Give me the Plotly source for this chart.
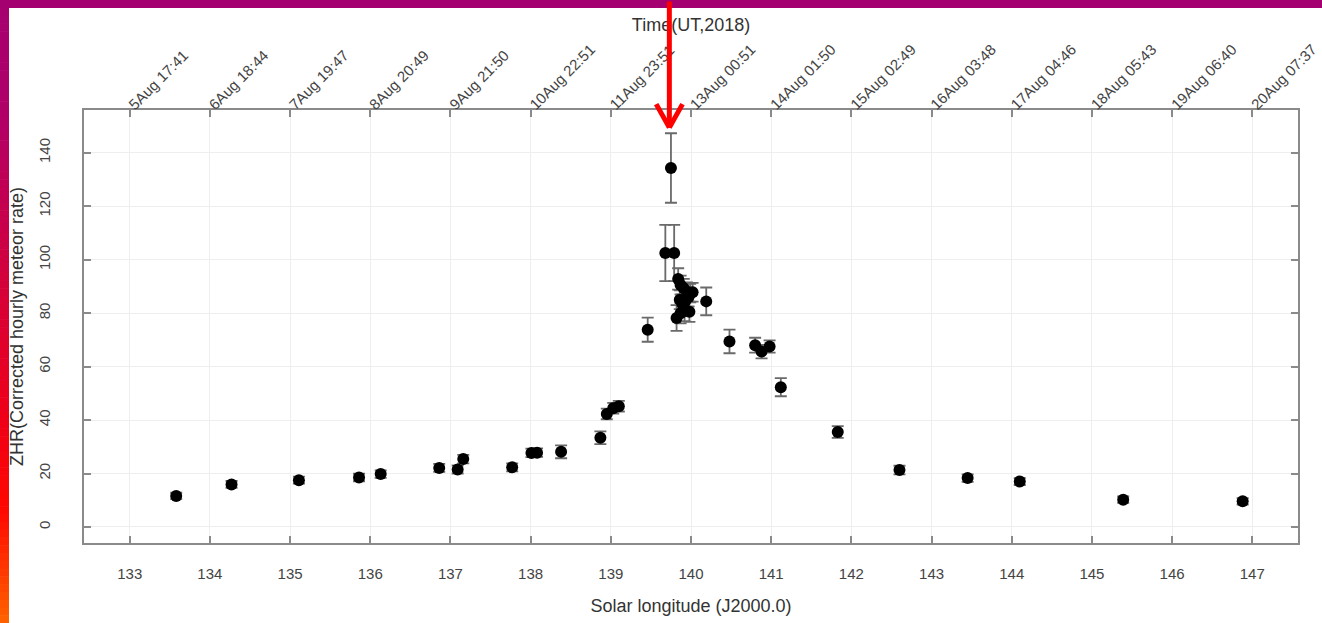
import plotly.graph_objects as go

# ---------------- data ----------------
sol_long = [133.58, 134.27, 135.11, 135.86, 136.13, 136.86, 137.09, 137.16, 137.77, 138.01,
            138.08, 138.38, 138.87, 138.95, 139.03, 139.10, 139.46, 139.68, 139.75, 139.79,
            139.84, 139.87, 139.91, 139.95, 139.99, 140.02, 139.86, 139.89, 139.93, 139.97,
            139.82, 139.87, 139.92, 139.98, 140.19, 140.48, 140.80, 140.88, 140.98, 141.12,
            141.83, 142.60, 143.45, 144.10, 145.39, 146.88]
zhr = [11.6, 15.9, 17.5, 18.5, 19.8, 22.1, 21.5, 25.4, 22.3, 27.7,
       27.8, 28.1, 33.4, 42.3, 44.4, 45.2, 73.8, 102.5, 134.3, 102.5,
       92.8, 90.5, 89.3, 88.0, 87.5, 87.8, 85.0, 83.5, 84.5, 86.0,
       78.2, 80.0, 80.8, 80.5, 84.4, 69.4, 68.0, 65.6, 67.5, 52.3,
       35.5, 21.3, 18.3, 17.0, 10.2, 9.6]
zhr_err = [1.2, 1.3, 1.3, 1.4, 1.4, 1.5, 1.5, 1.6, 1.5, 1.6,
           1.6, 2.4, 2.4, 2.0, 2.0, 2.0, 4.5, 10.5, 13.0, 10.5,
           4.0, 3.5, 3.5, 3.5, 3.5, 3.5, 3.5, 3.5, 3.5, 3.5,
           4.8, 3.8, 3.8, 3.8, 5.2, 4.4, 2.8, 2.5, 2.3, 3.4,
           2.2, 1.6, 1.4, 1.3, 1.2, 1.2]

bottom_ticks = [133, 134, 135, 136, 137, 138, 139, 140, 141, 142, 143, 144, 145, 146, 147]
time_labels = ["5Aug 17:41", "6Aug 18:44", "7Aug 19:47", "8Aug 20:49", "9Aug 21:50",
               "10Aug 22:51", "11Aug 23:51", "13Aug 00:51", "14Aug 01:50", "15Aug 02:49",
               "16Aug 03:48", "17Aug 04:46", "18Aug 05:43", "19Aug 06:40", "20Aug 07:37"]
y_ticks = [0, 20, 40, 60, 80, 100, 120, 140]
peak_sol_long = 139.73
arrow_tip_zhr = 149.4

# ---------------- styling ----------------
W, H = 1322, 623
ML, MR, MT, MB = 84, 24, 110, 80
PW, PH = W - ML - MR, H - MT - MB
FONT = "Liberation Sans, Arial, sans-serif"
FRAME = "#8a8a8a"
GRID = "#eeeeee"
TICKFONT = dict(family=FONT, size=15, color="#444444")
TITLEFONT = dict(family=FONT, size=18, color="#333333")
X_RANGE = [132.43, 147.57]
Y_RANGE = [-6, 156]


def px_to_paper_x(px):
    return (px - ML) / PW


def px_to_paper_y(py):
    return (H - MB - py) / PH


fig = go.Figure()

fig.add_trace(go.Scatter(
    x=sol_long, y=zhr, mode="markers",
    marker=dict(color="black", size=12, line=dict(width=0)),
    error_y=dict(type="data", array=zhr_err, visible=True,
                 color="#6a6a6a", thickness=1.8, width=6),
    showlegend=False, hoverinfo="x+y",
))
# invisible companion trace so that the top (time) axis is bound to data
fig.add_trace(go.Scatter(
    x=sol_long, y=zhr, xaxis="x2", mode="markers",
    marker=dict(opacity=0), showlegend=False, hoverinfo="skip",
))

# ---------------- decorative border (top band + left gradient) ----------------
def lerp(c1, c2, t):
    return tuple(round(a + (b - a) * t) for a, b in zip(c1, c2))


stops = [(0.0, (165, 0, 112)), (0.18, (176, 0, 104)), (0.42, (208, 0, 64)),
         (0.68, (240, 0, 22)), (0.82, (255, 8, 0)), (1.0, (255, 100, 0))]
shapes = []
n_seg = 80
seg_h = H / n_seg
for i in range(n_seg):
    t = (i + 0.5) / n_seg
    c = stops[-1][1]
    for (t0, c0), (t1, c1) in zip(stops[:-1], stops[1:]):
        if t0 <= t <= t1:
            c = lerp(c0, c1, (t - t0) / (t1 - t0))
            break
    shapes.append(dict(type="rect", xref="paper", yref="paper",
                       x0=px_to_paper_x(0), x1=px_to_paper_x(9),
                       y0=px_to_paper_y((i + 1) * seg_h + 0.6),
                       y1=px_to_paper_y(i * seg_h),
                       line=dict(width=0),
                       fillcolor="rgb(%d,%d,%d)" % c, layer="above"))
shapes.append(dict(type="rect", xref="paper", yref="paper",
                   x0=px_to_paper_x(0), x1=px_to_paper_x(W),
                   y0=px_to_paper_y(8), y1=px_to_paper_y(0),
                   line=dict(width=0), fillcolor="rgb(165,0,112)", layer="above"))

# ---------------- red arrow marking the peak ----------------
arrow_common = dict(x=peak_sol_long, y=arrow_tip_zhr, xref="x", yref="y",
                    text="", showarrow=True, arrowhead=0, arrowwidth=5,
                    arrowcolor="#ff0000", standoff=0, axref="pixel", ayref="pixel")
annotations = [
    dict(arrow_common, ax=0, ay=-130),
    dict(arrow_common, ax=-14, ay=-25),
    dict(arrow_common, ax=14, ay=-25),
]

fig.update_layout(
    width=W, height=H,
    margin=dict(l=ML, r=MR, t=MT, b=MB, pad=0, autoexpand=False),
    paper_bgcolor="white", plot_bgcolor="white",
    font=dict(family=FONT),
    shapes=shapes,
    annotations=annotations,
    xaxis=dict(
        range=X_RANGE, tickmode="array", tickvals=bottom_ticks,
        ticktext=[str(v) for v in bottom_ticks],
        ticks="inside", ticklen=7, tickwidth=1.5, tickcolor=FRAME,
        showline=True, linecolor=FRAME, linewidth=2, mirror=True,
        showgrid=True, gridcolor=GRID, gridwidth=1, zeroline=False,
        tickfont=TICKFONT, ticklabelstandoff=16, automargin=False,
        title=dict(text="Solar longitude (J2000.0)", font=TITLEFONT, standoff=18),
    ),
    xaxis2=dict(
        range=X_RANGE, overlaying="x", side="top", anchor="y",
        tickmode="array", tickvals=bottom_ticks, ticktext=time_labels,
        tickangle=-45, ticks="inside", ticklen=7, tickwidth=1.5, tickcolor=FRAME,
        showline=False, showgrid=False, zeroline=False, automargin=False,
        tickfont=dict(family=FONT, size=15, color="#444444"), ticklabelstandoff=-7,
        title=dict(text="Time(UT,2018)", font=TITLEFONT, standoff=4),
    ),
    yaxis=dict(
        range=Y_RANGE, tickmode="array", tickvals=y_ticks,
        ticks="inside", ticklen=7, tickwidth=1.5, tickcolor=FRAME,
        showline=True, linecolor=FRAME, linewidth=2, mirror="ticks",
        showgrid=True, gridcolor=GRID, gridwidth=1, zeroline=False,
        tickangle=-90, tickfont=TICKFONT, ticklabelstandoff=26, automargin=False,
        title=dict(text="ZHR(Corrected hourly meteor rate)", font=TITLEFONT, standoff=8),
    ),
)

# remove the browser's default 8px body margin so the figure sits at the page origin
fig.write_html("out.html", config={"displayModeBar": False},
               post_script="document.body.style.margin='0';")
